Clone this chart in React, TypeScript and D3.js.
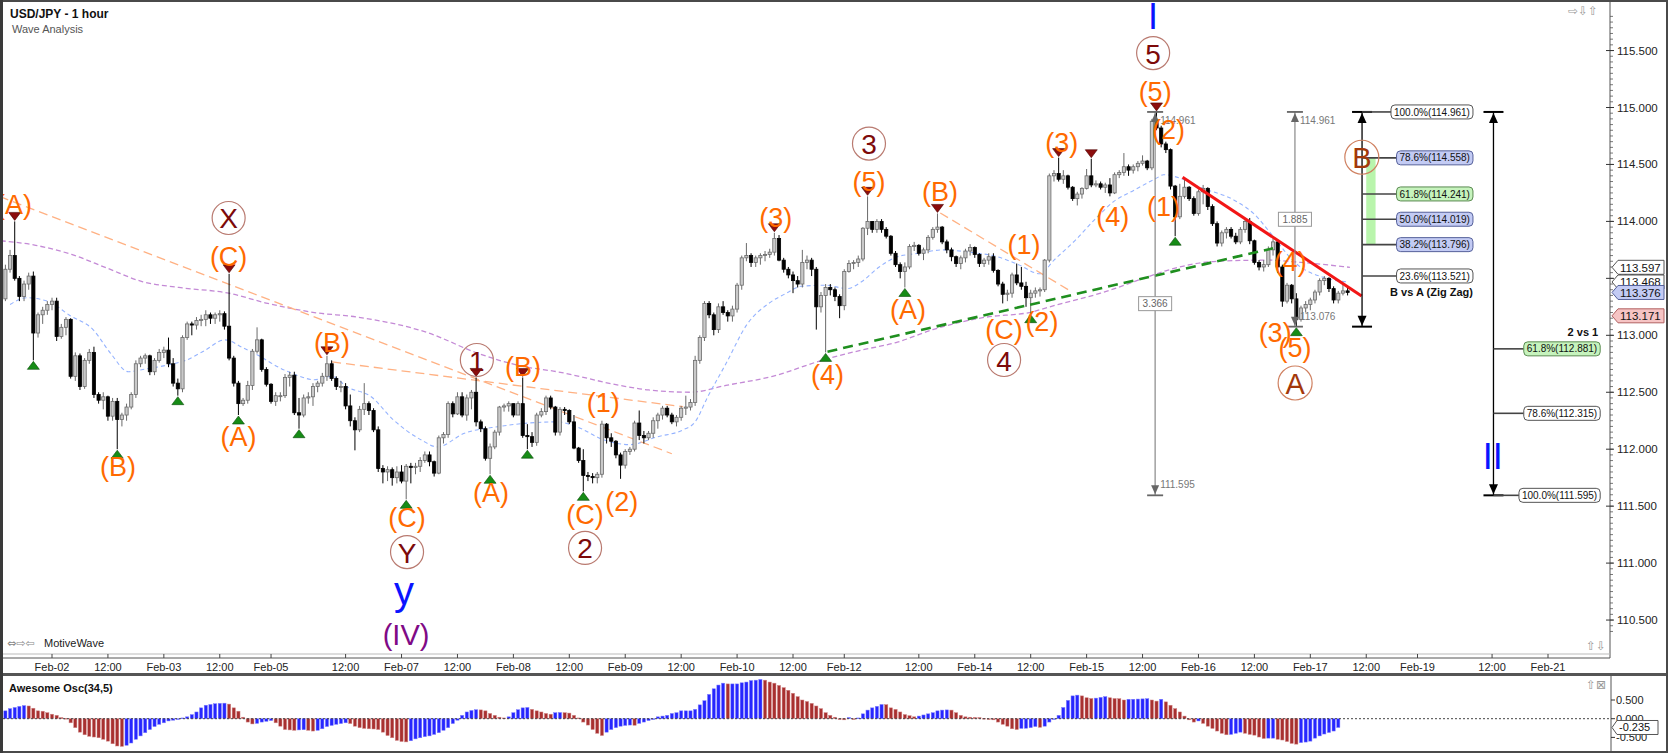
import React from "react";
import * as d3 from "d3";

const W = 1668;
const H = 753;
const FONT = "'Liberation Sans', Arial, sans-serif";

// hourly bars [high, low, close]; each bar opens at the previous close
const lateFeb01 = [
  [113.62, 113.3, 113.58], [113.75, 113.55, 113.7], [114.0, 113.48, 113.5], [113.52, 113.3, 113.34],
  [113.48, 113.3, 113.45], [113.55, 113.4, 113.52], [113.56, 112.78, 113.02], [113.2, 112.98, 113.18],
  [113.25, 113.1, 113.22], [113.3, 113.18, 113.27],
];
const feb02 = [
  [113.33, 113.22, 113.3], [113.33, 112.95, 112.99], [113.1, 112.97, 113.07], [113.16, 113.0, 113.14],
  [113.15, 112.62, 112.64], [112.85, 112.6, 112.82], [112.84, 112.52, 112.55], [112.8, 112.53, 112.78],
  [112.88, 112.75, 112.85], [112.9, 112.45, 112.48], [112.5, 112.4, 112.43], [112.5, 112.35, 112.46],
  [112.47, 112.25, 112.29], [112.45, 112.25, 112.42], [112.45, 112.0, 112.26], [112.32, 112.2, 112.3],
  [112.4, 112.25, 112.37], [112.5, 112.35, 112.48], [112.78, 112.45, 112.75], [112.82, 112.72, 112.8],
  [112.84, 112.75, 112.82], [112.83, 112.65, 112.68], [112.8, 112.65, 112.78], [112.88, 112.76, 112.85],
];
const feb03 = [
  [112.9, 112.8, 112.87], [112.98, 112.72, 112.75], [112.8, 112.55, 112.58], [112.62, 112.47, 112.53],
  [113.0, 112.5, 112.98], [113.12, 112.96, 113.1], [113.12, 113.0, 113.09], [113.16, 113.05, 113.13],
  [113.18, 113.08, 113.14], [113.22, 113.08, 113.18], [113.2, 113.1, 113.15], [113.2, 113.1, 113.18],
  [113.22, 113.12, 113.19], [113.21, 113.05, 113.08], [113.54, 112.78, 112.8], [112.82, 112.55, 112.58],
  [112.6, 112.3, 112.4], [112.45, 112.38, 112.43], [112.6, 112.4, 112.56], [112.88, 112.52, 112.86],
  [113.07, 112.84, 112.96], [112.97, 112.68, 112.7], [112.72, 112.55, 112.57],
];
const feb05to06 = [
  [112.58, 112.4, 112.42], [112.5, 112.38, 112.47], [112.5, 112.42, 112.47], [112.66, 112.45, 112.63],
  [112.68, 112.55, 112.65], [112.68, 112.3, 112.32], [112.45, 112.18, 112.3], [112.48, 112.28, 112.45],
  [112.5, 112.4, 112.46], [112.58, 112.38, 112.55], [112.6, 112.5, 112.58], [112.67, 112.55, 112.64],
  [112.82, 112.6, 112.75], [112.78, 112.6, 112.62], [112.64, 112.52, 112.55], [112.6, 112.5, 112.55],
  [112.58, 112.35, 112.38], [112.48, 112.2, 112.25], [112.28, 111.99, 112.17], [112.38, 112.15, 112.35],
  [112.58, 112.3, 112.4], [112.42, 112.3, 112.34], [112.36, 112.15, 112.17], [112.2, 111.8, 111.83],
  [111.86, 111.7, 111.8], [111.85, 111.72, 111.82], [111.84, 111.68, 111.75], [111.85, 111.7, 111.8],
];
const feb07 = [
  [111.86, 111.7, 111.72], [111.87, 111.56, 111.85], [111.88, 111.7, 111.84], [111.88, 111.78, 111.85],
  [111.93, 111.8, 111.9], [111.98, 111.88, 111.95], [111.98, 111.85, 111.89], [111.9, 111.76, 111.79],
  [112.12, 111.78, 112.1], [112.15, 112.05, 112.13], [112.42, 112.1, 112.4], [112.42, 112.28, 112.31],
  [112.5, 112.3, 112.46], [112.5, 112.28, 112.3], [112.48, 112.25, 112.45], [112.52, 112.35, 112.5],
  [112.63, 112.2, 112.24], [112.26, 112.15, 112.18], [112.2, 111.9, 111.92], [112.05, 111.78, 112.02],
  [112.17, 112.0, 112.15], [112.38, 112.12, 112.37], [112.4, 112.33, 112.38], [112.42, 112.33, 112.4],
];
const feb08 = [
  [112.4, 112.28, 112.3], [112.42, 112.3, 112.4], [112.63, 112.1, 112.12], [112.22, 112.0, 112.11],
  [112.15, 112.02, 112.06], [112.32, 112.03, 112.3], [112.36, 112.28, 112.33], [112.47, 112.3, 112.45],
  [112.47, 112.35, 112.37], [112.38, 112.12, 112.15], [112.37, 112.12, 112.35], [112.37, 112.3, 112.34],
  [112.35, 112.22, 112.24], [112.3, 112.0, 112.01], [112.02, 111.88, 111.9], [112.0, 111.63, 111.77],
  [111.8, 111.72, 111.76], [111.79, 111.7, 111.75], [111.8, 111.7, 111.78], [112.25, 111.75, 112.22],
  [112.23, 112.05, 112.1], [112.14, 112.02, 112.07], [112.08, 111.92, 111.95], [111.97, 111.74, 111.86],
];
const feb09 = [
  [112.0, 111.83, 111.98], [112.02, 111.95, 112.0], [112.25, 111.98, 112.23], [112.34, 112.08, 112.12],
  [112.16, 112.05, 112.1], [112.16, 112.08, 112.14], [112.28, 112.1, 112.25], [112.32, 112.18, 112.3],
  [112.38, 112.26, 112.36], [112.38, 112.28, 112.3], [112.32, 112.22, 112.24], [112.3, 112.2, 112.28],
  [112.38, 112.25, 112.36], [112.47, 112.3, 112.37], [112.44, 112.34, 112.41], [112.82, 112.38, 112.78],
  [113.0, 112.75, 112.98], [113.3, 112.95, 113.28], [113.3, 113.15, 113.18], [113.2, 113.0, 113.05],
  [113.28, 113.02, 113.25], [113.3, 113.18, 113.2], [113.22, 113.12, 113.17], [113.26, 113.12, 113.23],
];
const feb10 = [
  [113.46, 113.2, 113.44], [113.7, 113.4, 113.68], [113.81, 113.65, 113.7], [113.72, 113.6, 113.64],
  [113.7, 113.6, 113.68], [113.72, 113.62, 113.7], [113.74, 113.65, 113.71], [113.76, 113.68, 113.73],
  [113.9, 113.7, 113.85], [113.88, 113.65, 113.66], [113.68, 113.55, 113.58], [113.6, 113.5, 113.53],
  [113.56, 113.37, 113.48], [113.52, 113.42, 113.45], [113.75, 113.42, 113.64], [113.7, 113.58, 113.66],
  [113.68, 113.52, 113.58], [113.6, 113.05, 113.25], [113.38, 113.2, 113.35], [113.45, 112.85, 113.42],
  [113.45, 113.35, 113.4], [113.42, 113.3, 113.34], [113.36, 113.15, 113.26],
];
const feb12to13 = [
  [113.58, 113.22, 113.56], [113.66, 113.55, 113.63], [113.66, 113.58, 113.64], [113.7, 113.6, 113.67],
  [113.95, 113.65, 113.94], [114.22, 113.88, 114.0], [114.0, 113.9, 113.93], [114.02, 113.9, 114.0],
  [114.02, 113.9, 113.93], [113.95, 113.85, 113.87], [113.88, 113.7, 113.72], [113.74, 113.6, 113.62],
  [113.64, 113.5, 113.56], [113.64, 113.42, 113.6], [113.8, 113.58, 113.78], [113.82, 113.74, 113.79],
  [113.8, 113.7, 113.72], [113.77, 113.66, 113.75], [113.88, 113.72, 113.86], [113.95, 113.84, 113.93],
  [114.07, 113.9, 113.95], [113.96, 113.8, 113.82], [113.84, 113.72, 113.75], [113.77, 113.65, 113.69],
  [113.7, 113.6, 113.63], [113.7, 113.58, 113.68], [113.76, 113.64, 113.74], [113.8, 113.7, 113.77],
];
const feb14 = [
  [113.78, 113.68, 113.71], [113.72, 113.6, 113.63], [113.68, 113.6, 113.66], [113.72, 113.62, 113.69],
  [113.72, 113.55, 113.57], [113.58, 113.43, 113.45], [113.47, 113.28, 113.36], [113.4, 113.3, 113.37],
  [113.55, 113.33, 113.53], [113.63, 113.44, 113.46], [113.6, 113.4, 113.43], [113.47, 113.25, 113.33],
  [113.4, 113.19, 113.37], [113.42, 113.33, 113.39], [113.42, 113.34, 113.4], [113.67, 113.38, 113.66],
  [114.42, 113.64, 114.4], [114.45, 114.35, 114.42], [114.56, 114.35, 114.37], [114.45, 114.33, 114.4],
  [114.41, 114.28, 114.3], [114.31, 114.18, 114.2], [114.26, 114.14, 114.24], [114.3, 114.2, 114.29],
];
const feb15 = [
  [114.46, 114.28, 114.4], [114.55, 114.3, 114.32], [114.36, 114.3, 114.33], [114.35, 114.28, 114.3],
  [114.34, 114.25, 114.32], [114.38, 114.22, 114.25], [114.43, 114.24, 114.41], [114.45, 114.38, 114.43],
  [114.6, 114.4, 114.48], [114.5, 114.4, 114.45], [114.5, 114.42, 114.48], [114.53, 114.44, 114.51],
  [114.58, 114.49, 114.53], [114.54, 114.45, 114.47], [114.9, 114.45, 114.88], [114.961, 114.8, 114.82],
  [114.84, 114.65, 114.68], [114.7, 114.6, 114.63], [114.64, 114.28, 114.31], [114.32, 113.87, 114.04],
  [114.33, 114.02, 114.22], [114.38, 114.2, 114.3], [114.31, 114.18, 114.2], [114.22, 114.05, 114.07],
];
const feb16 = [
  [114.28, 114.05, 114.26], [114.32, 114.15, 114.29], [114.3, 114.1, 114.13], [114.15, 113.96, 113.98],
  [114.0, 113.78, 113.81], [113.92, 113.78, 113.9], [113.95, 113.85, 113.93], [113.95, 113.85, 113.87],
  [113.9, 113.8, 113.82], [113.95, 113.8, 113.93], [114.03, 113.9, 114.0], [114.03, 113.8, 113.83],
  [113.84, 113.62, 113.64], [113.66, 113.57, 113.6], [113.66, 113.56, 113.62], [113.78, 113.6, 113.75],
  [113.85, 113.7, 113.82], [113.84, 113.55, 113.6], [113.62, 113.25, 113.3], [113.46, 113.28, 113.44],
  [113.45, 113.28, 113.32], [113.37, 113.076, 113.14], [113.26, 113.12, 113.24], [113.3, 113.2, 113.27],
];
const feb17 = [
  [113.33, 113.22, 113.31], [113.4, 113.28, 113.38], [113.5, 113.35, 113.48], [113.52, 113.44, 113.5],
  [113.51, 113.38, 113.41], [113.43, 113.28, 113.31], [113.39, 113.28, 113.37], [113.45, 113.35, 113.39],
  [113.42, 113.35, 113.376],
];
const days = [lateFeb01, feb02, feb03, feb05to06, feb07, feb08, feb09, feb10, feb12to13, feb14, feb15, feb16, feb17];
const FIRST_BAR = -10; // hours relative to Feb-02 00:00 (weekends collapsed)
const FIRST_OPEN = 113.32;

const dateTicks: [number, string][] = [
  [0, "Feb-02"], [12, "12:00"], [24, "Feb-03"], [36, "12:00"], [47, "Feb-05"], [63, "12:00"],
  [75, "Feb-07"], [87, "12:00"], [99, "Feb-08"], [111, "12:00"], [123, "Feb-09"], [135, "12:00"],
  [147, "Feb-10"], [159, "12:00"], [170, "Feb-12"], [186, "12:00"], [198, "Feb-14"], [210, "12:00"],
  [222, "Feb-15"], [234, "12:00"], [246, "Feb-16"], [258, "12:00"], [270, "Feb-17"], [282, "12:00"],
  [293, "Feb-19"], [309, "12:00"], [321, "Feb-21"],
];
const priceTicks = [110.5, 111, 111.5, 112, 112.5, 113, 113.5, 114, 114.5, 115, 115.5];
const aoTicks = [0.5, 0, -0.5];

// Awesome Oscillator (34,5), one value per bar
const aoLeft = [
  0.21, 0.27, 0.3, 0.33, 0.35, 0.34, 0.28, 0.21, 0.2, 0.16, 0.12, 0.09, 0.03, 0.01,
  -0.11, -0.24, -0.36, -0.43, -0.47, -0.49, -0.51, -0.55, -0.6, -0.67, -0.73, -0.74, -0.71, -0.65, -0.55, -0.46,
  -0.375, -0.29, -0.21, -0.15, -0.11, -0.06, -0.04, 0.0, 0.02, 0.05, 0.11, 0.18, 0.29, 0.36, 0.38, 0.4,
  0.41, 0.415, 0.39, 0.29, 0.2, 0.04, -0.09, -0.14, -0.125, -0.09, -0.07, -0.05, -0.11, -0.2, -0.29, -0.3,
  -0.31, -0.3, -0.295, -0.31, -0.33, -0.31, -0.27, -0.21, -0.18, -0.15, -0.13, -0.11, -0.13, -0.2, -0.24, -0.26,
  -0.27, -0.275, -0.29, -0.36, -0.45, -0.51, -0.58, -0.61, -0.62, -0.59, -0.54, -0.51, -0.48, -0.46, -0.42, -0.375,
  -0.31, -0.24, -0.13, -0.04, 0.09, 0.18, 0.22, 0.24, 0.235, 0.21, 0.14, 0.09, 0.04, 0.02, 0.05, 0.16,
  0.24, 0.29, 0.3, 0.25, 0.21, 0.18, 0.14, 0.12, 0.16, 0.165, 0.16, 0.15, 0.09, 0.02, -0.09, -0.17,
  -0.29, -0.39, -0.45, -0.36, -0.29, -0.24, -0.2, -0.18, -0.17, -0.175, -0.125, -0.09, -0.05, 0.0, 0.05, 0.07,
  0.09, 0.14, 0.16,
];
const aoRight = [
  0.21, 0.21, 0.21, 0.25, 0.37, 0.48, 0.65, 0.8, 0.9, 0.95, 0.93, 0.93, 0.93, 0.96, 0.98, 1.02, 1.03, 1.05,
  1.03, 0.98, 0.95, 0.89, 0.83, 0.76, 0.68, 0.59, 0.5, 0.46, 0.41, 0.34, 0.27, 0.16, 0.09, 0.04, -0.02, -0.03,
  0.03, 0.0, 0.02, 0.13, 0.23, 0.29, 0.33, 0.38, 0.375, 0.29, 0.25, 0.18, 0.11, 0.08, 0.05, 0.07, 0.1, 0.13,
  0.16, 0.21, 0.23, 0.235, 0.23, 0.16, 0.09, 0.05, 0.04, 0.035, 0.03, 0.01, 0.0, -0.03, -0.09, -0.15, -0.2, -0.27,
  -0.29, -0.26, -0.255, -0.24, -0.21, -0.23, -0.2, -0.09, -0.02, 0.09, 0.3, 0.49, 0.61, 0.63, 0.61, 0.56,
  0.54, 0.55, 0.57, 0.59, 0.56, 0.54, 0.535, 0.5, 0.52, 0.52, 0.525, 0.53, 0.535, 0.5, 0.47, 0.52, 0.45, 0.36,
  0.27, 0.18, 0.07, -0.03, -0.09, -0.06, -0.125, -0.2, -0.26, -0.33, -0.39, -0.43, -0.42, -0.39, -0.36, -0.39,
  -0.42, -0.44, -0.49, -0.53, -0.52, -0.52, -0.55, -0.57, -0.61, -0.66, -0.68, -0.64, -0.625, -0.6, -0.52, -0.46,
  -0.41, -0.37, -0.33, -0.235,
];

// moving averages [bar, price]
const fastMa: [number, number][] = [
  [-9, 113.27], [-5.5, 113.33], [-1, 113.3], [4, 113.17], [8.8, 113.05], [12.6, 112.84], [16.4, 112.68],
  [19.5, 112.7], [24.9, 112.74], [28.7, 112.78], [32.5, 112.86], [37.1, 112.96], [41, 112.89], [44, 112.83],
  [48.6, 112.72], [52.5, 112.65], [56.3, 112.61], [60.1, 112.64], [63.2, 112.55], [68.5, 112.46],
  [73.2, 112.26], [79.3, 112.08], [82.7, 112.02], [88.5, 112.14], [96.1, 112.2], [102.3, 112.23],
  [108.4, 112.24], [112.4, 112.2], [118.5, 112.08], [123.9, 112.04], [130, 112.11], [135.4, 112.17],
  [138, 112.24], [140.7, 112.46], [144.6, 112.75], [149.2, 113.1], [153.8, 113.28], [157.6, 113.37],
  [160.7, 113.43], [166, 113.44], [170.6, 113.41], [173.7, 113.47], [177.5, 113.6], [181.4, 113.69],
  [186, 113.72], [191.3, 113.75], [196.7, 113.73], [202.8, 113.69], [207.4, 113.62], [212, 113.54],
  [215, 113.66], [219.7, 113.84], [224.3, 114.04], [228, 114.18], [232, 114.27], [237, 114.38],
  [238.5, 114.41], [242, 114.38], [246.3, 114.3], [253.5, 114.19], [257.8, 114.07], [262, 113.87],
  [266.4, 113.65], [273.5, 113.5], [278, 113.468],
];
const slowMa: [number, number][] = [
  [-11, 113.83], [-3.5, 113.79], [4.2, 113.71], [11.8, 113.59], [19.5, 113.47], [27.2, 113.42],
  [37.9, 113.37], [46.3, 113.28], [56.3, 113.2], [65.5, 113.16], [80.8, 113.02], [91.5, 112.84],
  [100.7, 112.73], [108.4, 112.68], [121.9, 112.56], [128, 112.52], [137, 112.5], [144.6, 112.56],
  [154.6, 112.64], [166, 112.79], [173.7, 112.87], [181.4, 112.94], [189, 113.05], [200.5, 113.16],
  [209.7, 113.2], [215.8, 113.27], [225, 113.37], [235.6, 113.52], [239.3, 113.57], [250, 113.65],
  [260.7, 113.66], [268, 113.64], [278.5, 113.597],
];

// drawn lines [bar1, price1, bar2, price2]
const orangeTrendLines: [number, number, number, number][] = [
  [-11.2, 114.218, 133, 111.96],
  [60.1, 112.766, 135.4, 112.373],
  [190.6, 114.074, 218.9, 113.38],
];
const greenTrendLine: [number, number, number, number] = [166.4, 112.856, 262, 113.764];
const redTrendLine: [number, number, number, number] = [242.6, 114.387, 281.0, 113.345];

// wave labels [bar, price, text]
const minorWaves: [number, number, string][] = [
  [-8.15, 114.144, "(A)"], [37.9, 113.687, "(C)"], [14.16, 111.844, "(B)"], [40.04, 112.107, "(A)"],
  [60.09, 112.932, "(B)"], [76.18, 111.396, "(C)"], [94.21, 111.616, "(A)"], [101.07, 112.722, "(B)"],
  [118.3, 112.403, "(1)"], [114.38, 111.422, "(C)"], [122.25, 111.539, "(2)"], [155.3, 114.03, "(3)"],
  [175.3, 114.349, "(5)"], [166.4, 112.651, "(4)"], [190.56, 114.261, "(B)"], [183.67, 113.222, "(A)"],
  [208.58, 113.793, "(1)"], [204.29, 113.046, "(C)"], [212.4, 113.119, "(2)"], [216.67, 114.686, "(3)"],
  [227.6, 114.041, "(4)"], [236.7, 115.139, "(5)"], [239.55, 114.802, "(2)"], [238.48, 114.129, "(1)"],
  [265.67, 113.646, "(4)"], [262.45, 113.02, "(3)"], [266.74, 112.886, "(5)"],
];
const intermediateWaves: [number, number, string][] = [
  [37.9, 114.03, "X"], [76.18, 111.097, "Y"], [91.16, 112.783, "1"], [114.38, 111.133, "2"],
  [175.3, 114.683, "3"], [204.29, 112.783, "4"], [236.27, 115.478, "5"],
];
const zigzagWaves: [number, number, string][] = [[266.74, 112.581, "A"], [281.05, 114.563, "B"]];
const primaryWaves: [number, number, string][] = [[75.54, 110.757, "y"], [236.27, 115.803, "I"], [309.16, 111.94, "II"]];
const cycleWaves: [number, number, string][] = [[75.97, 110.369, "(IV)"]];

const swingHighs = [-8, 38, 59, 91, 101, 155, 175, 190, 216, 223, 237];
const swingLows = [-4, 14, 27, 40, 53, 76, 94, 102, 114, 166, 183, 210, 241, 267];

// price measurements [bar, from, to]
const measures: [number, number, number][] = [[236.7, 114.961, 111.595], [266.7, 114.961, 113.076]];

// fibonacci tools
const bVsA = { bar: 281.1, labelRight: 304.9, top: 114.961, bottom: 113.076, title: "B vs A (Zig Zag)" };
const bVsALevels: [string, number, string][] = [
  ["100.0%", 114.961, "plain"], ["78.6%", 114.558, "blue"], ["61.8%", 114.241, "green"],
  ["50.0%", 114.019, "blue"], ["38.2%", 113.796, "blue"], ["23.6%", 113.521, "plain"],
];
const bVsAZone: [number, number, number, number] = [282, 284, 113.796, 114.558];
const twoVsOne = { bar: 309.3, labelRight: 332.2, top: 114.961, bottom: 111.595, title: "2 vs 1" };
const twoVsOneLevels: [string, number, string][] = [
  ["61.8%", 112.881, "green"], ["78.6%", 112.315, "plain"], ["100.0%", 111.595, "plain"],
];

// right axis markers [price, kind]
const axisMarkers: [number, string][] = [[113.597, "plain"], [113.468, "plain"], [113.376, "blue"], [113.171, "red"]];
const aoLast = -0.235;

const x = d3.scaleLinear().domain([0, 321]).range([52, 1548]);
const y = d3.scaleLinear().domain([111, 115]).range([563.1, 107.5]);
const yAo = d3.scaleLinear().domain([-0.5, 0.5]).range([737.4, 700]);

const AXIS_X = 1610;
const MAIN_BOTTOM = 654;

const boxFill: Record<string, string> = { plain: "#ffffff", blue: "#c3cbf4", green: "#c6f3bd", red: "#f6c4c4" };
const boxStroke: Record<string, string> = { plain: "#555", blue: "#55609a", green: "#5a8a50", red: "#b06060" };

let measureCtx: CanvasRenderingContext2D | null = null;
function textWidth(s: string, size: number, bold = false) {
  if (!measureCtx && typeof document !== "undefined") measureCtx = document.createElement("canvas").getContext("2d");
  if (!measureCtx) return s.length * size * 0.56;
  measureCtx.font = `${bold ? "bold " : ""}${size}px ${FONT}`;
  return measureCtx.measureText(s).width;
}

const bars = days.flat().map((d, k, arr) => ({
  i: FIRST_BAR + k,
  o: k === 0 ? FIRST_OPEN : arr[k - 1][2],
  h: d[0],
  l: d[1],
  c: d[2],
}));
const barAt = (i: number) => bars[i - FIRST_BAR];
const ao = [...aoLeft, ...aoRight].map((v, k, arr) => ({ i: FIRST_BAR + k, v, up: k === 0 || v >= arr[k - 1] }));

const maLine = d3
  .line<[number, number]>()
  .x((d) => x(d[0]))
  .y((d) => y(d[1]))
  .curve(d3.curveMonotoneX);

function FibTool({ tool, levels }: { tool: typeof bVsA; levels: [string, number, string][] }) {
  const cx = x(tool.bar);
  const yt = y(tool.top);
  const yb = y(tool.bottom);
  const right = x(tool.labelRight);
  return (
    <g>
      <line x1={cx} x2={cx} y1={yt} y2={yb} stroke="#000" strokeWidth={1.3} />
      <line x1={cx - 10} x2={cx + 10} y1={yt} y2={yt} stroke="#000" strokeWidth={2} />
      <line x1={cx - 10} x2={cx + 10} y1={yb} y2={yb} stroke="#000" strokeWidth={2} />
      <path d={`M${cx},${yt + 1} L${cx - 4.5},${yt + 11} L${cx + 4.5},${yt + 11} Z`} fill="#000" />
      <path d={`M${cx},${yb - 1} L${cx - 4.5},${yb - 11} L${cx + 4.5},${yb - 11} Z`} fill="#000" />
      {levels.map(([pct, price, kind]) => {
        const label = `${pct}(${price.toFixed(3)})`;
        const w = textWidth(label, 10) + 6;
        const yy = y(price);
        return (
          <g key={pct}>
            <line x1={cx} x2={right - w} y1={yy} y2={yy} stroke="#444" strokeWidth={1.6} />
            <rect x={right - w} y={yy - 7} width={w} height={14} rx={4} fill={boxFill[kind]} stroke={boxStroke[kind]} strokeWidth={1} />
            <text x={right - 3} y={yy + 3.6} textAnchor="end" fontSize={10} fill="#111" fontFamily={FONT}>
              {label}
            </text>
          </g>
        );
      })}
    </g>
  );
}

export default function App() {
  const plainLabel = (s: string, xx: number, yy: number, size = 11, color = "#222", anchor = "start", bold = false) => (
    <text x={xx} y={yy} fontSize={size} fill={color} textAnchor={anchor as any} fontFamily={FONT} fontWeight={bold ? "bold" : "normal"}>
      {s}
    </text>
  );

  return (
    <div style={{ position: "absolute", left: 0, top: 0 }}>
      <svg width={W} height={H} style={{ display: "block", background: "#fff" }}>
        <defs>
          <clipPath id="mainClip">
            <rect x={3} y={2} width={AXIS_X - 3} height={MAIN_BOTTOM - 2} />
          </clipPath>
          <clipPath id="oscClip">
            <rect x={3} y={676} width={AXIS_X - 3} height={74} />
          </clipPath>
        </defs>

        <g clipPath="url(#mainClip)">
          {/* moving averages */}
          <path d={maLine(slowMa) || ""} fill="none" stroke="#c48ad6" strokeWidth={1.3} strokeDasharray="5,3" />
          <path d={maLine(fastMa) || ""} fill="none" stroke="#95b3ff" strokeWidth={1.1} strokeDasharray="4,3" />

          {/* trend lines */}
          {orangeTrendLines.map((l, k) => (
            <line key={k} x1={x(l[0])} y1={y(l[1])} x2={x(l[2])} y2={y(l[3])} stroke="#ffb183" strokeWidth={1.3} strokeDasharray="9,5" />
          ))}

          {/* candles */}
          {bars.map((b) => {
            const up = b.c >= b.o;
            const cx = x(b.i);
            const top = y(Math.max(b.o, b.c));
            const bot = y(Math.min(b.o, b.c));
            return (
              <g key={b.i}>
                <line x1={cx} x2={cx} y1={y(b.h)} y2={y(b.l)} stroke={up ? "#6a6a6a" : "#000"} strokeWidth={1} />
                <rect
                  x={cx - 1.6}
                  y={top}
                  width={3.2}
                  height={Math.max(1, bot - top)}
                  fill={up ? "#c9c9c9" : "#000"}
                  stroke={up ? "#6a6a6a" : "#000"}
                  strokeWidth={0.8}
                />
              </g>
            );
          })}

          <line
            x1={x(greenTrendLine[0])} y1={y(greenTrendLine[1])} x2={x(greenTrendLine[2])} y2={y(greenTrendLine[3])}
            stroke="#1f8f1f" strokeWidth={2.6} strokeDasharray="10,6"
          />
          <line
            x1={x(redTrendLine[0])} y1={y(redTrendLine[1])} x2={x(redTrendLine[2])} y2={y(redTrendLine[3])}
            stroke="#f21616" strokeWidth={3}
          />

          {/* swing markers */}
          {swingHighs.map((i) => {
            const cx = x(i);
            const t = y(barAt(i).h) - 1;
            return <path key={`h${i}`} d={`M${cx - 6},${t - 8} L${cx + 6},${t - 8} L${cx},${t} Z`} fill="#8b0d0d" stroke="#4a0000" strokeWidth={0.6} />;
          })}
          {swingLows.map((i) => {
            const cx = x(i);
            const t = y(barAt(i).l) + 1;
            return <path key={`l${i}`} d={`M${cx - 6},${t + 8} L${cx + 6},${t + 8} L${cx},${t} Z`} fill="#168c16" stroke="#0a4a0a" strokeWidth={0.6} />;
          })}

          {/* price measurements */}
          {measures.map(([bar, from, to]) => {
            const cx = x(bar);
            const yt = y(from);
            const yb = y(to);
            const mid = (yt + yb) / 2;
            const diff = (from - to).toFixed(3);
            const bw = textWidth(diff, 10) + 8;
            return (
              <g key={bar}>
                <line x1={cx} x2={cx} y1={yt} y2={yb} stroke="#888" strokeWidth={1.2} />
                <line x1={cx - 8} x2={cx + 8} y1={yt} y2={yt} stroke="#666" strokeWidth={1.8} />
                <line x1={cx - 8} x2={cx + 8} y1={yb} y2={yb} stroke="#666" strokeWidth={1.8} />
                <path d={`M${cx},${yt + 1} L${cx - 4},${yt + 10} L${cx + 4},${yt + 10} Z`} fill="#666" />
                <path d={`M${cx},${yb - 1} L${cx - 4},${yb - 10} L${cx + 4},${yb - 10} Z`} fill="#666" />
                {plainLabel(from.toFixed(3), cx + 5, yt + 12, 10, "#777")}
                {plainLabel(to.toFixed(3), cx + 5, yb - 7, 10, "#777")}
                <rect x={cx - bw / 2} y={mid - 7} width={bw} height={14} fill="#fff" stroke="#999" strokeWidth={1} />
                {plainLabel(diff, cx, mid + 3.6, 10, "#666", "middle")}
              </g>
            );
          })}

          {/* fibonacci tools */}
          <rect
            x={x(bVsAZone[0])} y={y(bVsAZone[3])} width={x(bVsAZone[1]) - x(bVsAZone[0])}
            height={y(bVsAZone[2]) - y(bVsAZone[3])} fill="#b9f5ac"
          />
          <FibTool tool={bVsA} levels={bVsALevels} />
          {plainLabel(bVsA.title, x(bVsA.labelRight), y(113.521) + 20, 11, "#111", "end", true)}
          <FibTool tool={twoVsOne} levels={twoVsOneLevels} />
          {plainLabel(twoVsOne.title, x(twoVsOne.labelRight) - 2, y(112.881) - 13, 11, "#111", "end", true)}

          {/* wave labels */}
          {minorWaves.map(([i, p, t], k) => (
            <text key={`m${k}`} x={x(i)} y={y(p)} fontSize={27} fill="#ff6a00" textAnchor="middle" dominantBaseline="central" fontFamily={FONT}>
              {t}
            </text>
          ))}
          {intermediateWaves.map(([i, p, t], k) => (
            <g key={`c${k}`}>
              <circle cx={x(i)} cy={y(p)} r={16.5} fill="none" stroke="#b97a70" strokeWidth={1.2} />
              <text x={x(i)} y={y(p) + 1} fontSize={28} fill="#7d0a0a" textAnchor="middle" dominantBaseline="central" fontFamily={FONT}>
                {t}
              </text>
            </g>
          ))}
          {zigzagWaves.map(([i, p, t], k) => (
            <g key={`z${k}`}>
              <circle cx={x(i)} cy={y(p)} r={17} fill="none" stroke="#cf8060" strokeWidth={1.2} />
              <text x={x(i)} y={y(p) + 1} fontSize={29} fill="#a3380a" textAnchor="middle" dominantBaseline="central" fontFamily={FONT}>
                {t}
              </text>
            </g>
          ))}
          {primaryWaves.map(([i, p, t], k) => (
            <text key={`p${k}`} x={x(i)} y={y(p)} fontSize={t === "y" ? 40 : 36} fill="#0a14ff" textAnchor="middle" dominantBaseline="central" fontFamily={FONT}>
              {t}
            </text>
          ))}
          {cycleWaves.map(([i, p, t], k) => (
            <text key={`cy${k}`} x={x(i)} y={y(p)} fontSize={29} fill="#800a86" textAnchor="middle" dominantBaseline="central" fontFamily={FONT}>
              {t}
            </text>
          ))}
        </g>

        {/* title */}
        {plainLabel("USD/JPY - 1 hour", 10, 18, 12, "#111", "start", true)}
        {plainLabel("Wave Analysis", 12, 33, 11, "#555")}
        <text x={7} y={647} fontSize={11} fill="#888" fontFamily="'DejaVu Sans', sans-serif">⇔⇨⇦</text>
        {plainLabel("MotiveWave", 44, 647, 11, "#222")}
        <text x={1568} y={15} fontSize={12} fill="#999" fontFamily="'DejaVu Sans', sans-serif">⇨⇩⇧</text>
        <text x={1586} y={650} fontSize={12} fill="#999" fontFamily="'DejaVu Sans', sans-serif">⇧⇩</text>

        {/* price axis */}
        <line x1={AXIS_X} x2={AXIS_X} y1={2} y2={658} stroke="#555" strokeWidth={1} />
        {d3.range(110.4, 115.85, 0.05).map((p) => (
          <line key={p.toFixed(2)} x1={AXIS_X} x2={AXIS_X + 3} y1={y(p)} y2={y(p)} stroke="#555" strokeWidth={0.8} />
        ))}
        {priceTicks.map((p) => (
          <g key={p}>
            <line x1={AXIS_X - 4} x2={AXIS_X + 4} y1={y(p)} y2={y(p)} stroke="#333" strokeWidth={1} />
            {plainLabel(p.toFixed(3), AXIS_X + 7, y(p) + 4, 11.5, "#222")}
          </g>
        ))}
        {axisMarkers.map(([p, kind]) => {
          const yy = y(p);
          return (
            <g key={p}>
              <path
                d={`M${AXIS_X + 2},${yy} L${AXIS_X + 8},${yy - 7} L${AXIS_X + 54},${yy - 7} L${AXIS_X + 54},${yy + 7} L${AXIS_X + 8},${yy + 7} Z`}
                fill={boxFill[kind]} stroke={boxStroke[kind]} strokeWidth={1}
              />
              {plainLabel(p.toFixed(3), AXIS_X + 10, yy + 4.2, 11.5, "#111")}
            </g>
          );
        })}

        {/* time axis */}
        <line x1={3} x2={AXIS_X} y1={MAIN_BOTTOM} y2={MAIN_BOTTOM} stroke="#bbb" strokeWidth={1} />
        <line x1={3} x2={AXIS_X} y1={658} y2={658} stroke="#555" strokeWidth={1} />
        {dateTicks.map(([i, s]) => (
          <g key={i}>
            <line x1={x(i)} x2={x(i)} y1={MAIN_BOTTOM} y2={658} stroke="#444" strokeWidth={1} />
            {plainLabel(s, x(i), 671, 11, "#222", "middle")}
          </g>
        ))}

        {/* oscillator */}
        <line x1={0} x2={W} y1={674.5} y2={674.5} stroke="#555" strokeWidth={3} />
        {plainLabel("Awesome Osc(34,5)", 9, 692, 11, "#111", "start", true)}
        <g clipPath="url(#oscClip)">
          {ao.map((d) => {
            const y0 = yAo(0);
            const y1 = yAo(d.v);
            return (
              <rect
                key={d.i}
                x={x(d.i) - 1.6}
                y={Math.min(y0, y1)}
                width={3.2}
                height={Math.max(0.8, Math.abs(y1 - y0))}
                fill={d.up ? "#2626ff" : "#a83030"}
                stroke={d.up ? "#7d7dff" : "#d08585"}
                strokeWidth={0.5}
              />
            );
          })}
          <line x1={3} x2={AXIS_X} y1={yAo(0)} y2={yAo(0)} stroke="#444" strokeWidth={1} strokeDasharray="2,2" />
        </g>
        <line x1={AXIS_X + 1} x2={AXIS_X + 1} y1={676} y2={751} stroke="#555" strokeWidth={1} />
        {aoTicks.map((v) => (
          <g key={v}>
            <line x1={AXIS_X + 1} x2={AXIS_X + 5} y1={yAo(v)} y2={yAo(v)} stroke="#333" />
            {plainLabel(v.toFixed(3), AXIS_X + 6, yAo(v) + 4, 11, "#222")}
          </g>
        ))}
        <path
          d={`M${AXIS_X + 2},${yAo(aoLast)} L${AXIS_X + 7},${yAo(aoLast) - 7} L${AXIS_X + 48},${yAo(aoLast) - 7} L${AXIS_X + 48},${yAo(aoLast) + 7} L${AXIS_X + 7},${yAo(aoLast) + 7} Z`}
          fill="#fff" stroke="#555"
        />
        {plainLabel(aoLast.toFixed(3), AXIS_X + 9, yAo(aoLast) + 4, 11, "#111")}
        <text x={1586} y={689} fontSize={12} fill="#999" fontFamily="'DejaVu Sans', sans-serif">⇧⊠</text>

        {/* frame */}
        <rect x={1} y={1} width={W - 2} height={H - 2} fill="none" stroke="#4a4a4a" strokeWidth={2} />
        <line x1={1.5} x2={1.5} y1={0} y2={H} stroke="#3a3a3a" strokeWidth={3} />
      </svg>
    </div>
  );
}
